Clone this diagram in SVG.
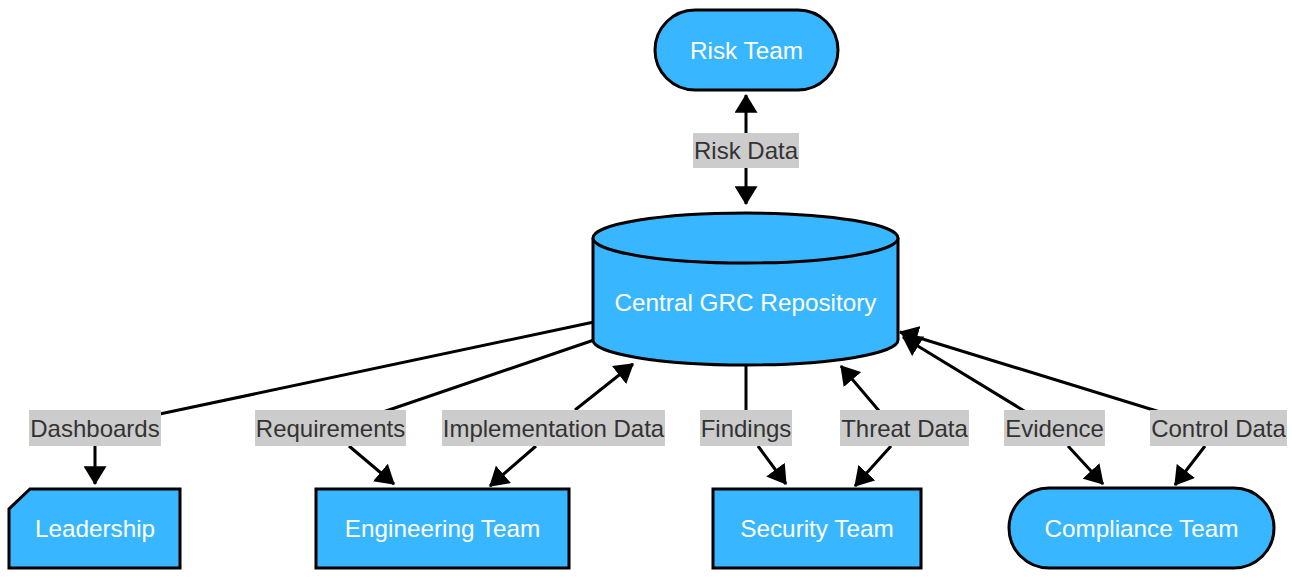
<svg xmlns="http://www.w3.org/2000/svg" width="1292" height="579" viewBox="0 0 1292 579">
<style>
.node{fill:#38b6ff;stroke:#000;stroke-width:3}
.ntext{font-family:"Liberation Sans",Arial,sans-serif;font-size:24.3px;fill:#fff;text-anchor:middle}
.edge{fill:none;stroke:#000;stroke-width:3}
.lbg{fill:#cccccc}
.ltext{font-family:"Liberation Sans",Arial,sans-serif;font-size:24px;fill:#333;text-anchor:middle}
</style>
<defs>
<marker id="arr" markerUnits="userSpaceOnUse" viewBox="0 0 18 22" markerWidth="19" markerHeight="23" refX="17" refY="11" orient="auto-start-reverse">
<path d="M0,0 L18,11 L0,22 z" fill="#000"/>
</marker>
</defs>
<rect width="1292" height="579" fill="#fff"/>
<g id="connectors">
<path class="edge" d="M746,95 L746,204" marker-start="url(#arr)" marker-end="url(#arr)"/>
<path class="edge" d="M594,322 L155,415 M95,440 L95,484" marker-end="url(#arr)"/>
<path class="edge" d="M594,340 L383,412 M349,446 L394,484" marker-end="url(#arr)"/>
<path class="edge" d="M633,364 L575,410 M536,446 L490,486" marker-start="url(#arr)" marker-end="url(#arr)"/>
<path class="edge" d="M746,365 L746,412 M758,446 L786,484" marker-end="url(#arr)"/>
<path class="edge" d="M841,366 L880,412 M891,446 L855,486" marker-start="url(#arr)" marker-end="url(#arr)"/>
<path class="edge" d="M903,337 L1026,412 M1068,446 L1103,484" marker-start="url(#arr)" marker-end="url(#arr)"/>
<path class="edge" d="M900,332 L1160,412 M1205,446 L1175,485" marker-start="url(#arr)" marker-end="url(#arr)"/>
</g>
<g id="labels">
<rect class="lbg" x="693" y="133" width="106" height="35"/><text class="ltext" x="746" y="159">Risk Data</text>
<rect class="lbg" x="29" y="410" width="132" height="36"/><text class="ltext" x="95" y="436.5">Dashboards</text>
<rect class="lbg" x="255" y="410" width="151" height="36"/><text class="ltext" x="330.5" y="436.5">Requirements</text>
<rect class="lbg" x="442" y="410" width="223" height="36"/><text class="ltext" x="553.5" y="436.5">Implementation Data</text>
<rect class="lbg" x="700" y="410" width="92" height="36"/><text class="ltext" x="746" y="436.5">Findings</text>
<rect class="lbg" x="840" y="410" width="129" height="36"/><text class="ltext" x="904.5" y="436.5">Threat Data</text>
<rect class="lbg" x="1004" y="410" width="101" height="36"/><text class="ltext" x="1054.5" y="436.5">Evidence</text>
<rect class="lbg" x="1150" y="410" width="137" height="36"/><text class="ltext" x="1218.5" y="436.5">Control Data</text>
</g>
<g id="risk-team">
<rect class="node" x="655" y="10" width="183" height="80" rx="40" ry="40"/>
<text class="ntext" x="746.5" y="58.5">Risk Team</text>
</g>
<g id="central-grc-repository">
<path class="node" d="M593,238 A152.5,25 0 0 1 898,238 L898,340 A152.5,25 0 0 1 593,340 Z"/>
<path class="node" d="M593,238 A152.5,25 0 0 0 898,238"/>
<text class="ntext" x="745.5" y="310.5">Central GRC Repository</text>
</g>
<g id="leadership">
<polygon class="node" points="30,489 180,489 180,568 9,568 9,509"/>
<text class="ntext" x="95" y="536.5">Leadership</text>
</g>
<g id="engineering-team">
<rect class="node" x="316" y="489" width="253" height="79"/>
<text class="ntext" x="442.5" y="536.5">Engineering Team</text>
</g>
<g id="security-team">
<rect class="node" x="713" y="489" width="208" height="79"/>
<text class="ntext" x="817" y="536.5">Security Team</text>
</g>
<g id="compliance-team">
<rect class="node" x="1009" y="488" width="265" height="80" rx="40" ry="40"/>
<text class="ntext" x="1141.5" y="536.5">Compliance Team</text>
</g>
</svg>
